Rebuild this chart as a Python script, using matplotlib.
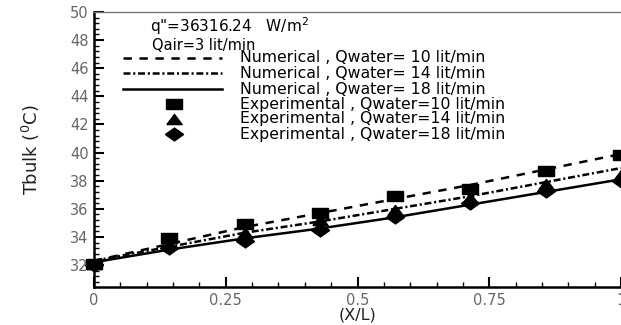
import numpy as np
import matplotlib
matplotlib.use("Agg")
import matplotlib.pyplot as plt
from matplotlib.ticker import MultipleLocator

plt.rcParams['font.family'] = ['DejaVu Sans']
plt.rcParams['lines.scale_dashes'] = False

# ── data ──────────────────────────────────────────────────
x_pos = [0, 1/7, 2/7, 3/7, 4/7, 5/7, 6/7, 1]

num_10 = [32.3, 33.5, 34.7, 35.7, 36.7, 37.7, 38.8, 39.9]
num_14 = [32.3, 33.3, 34.3, 35.1, 36.0, 36.9, 37.9, 38.9]
num_18 = [32.2, 33.1, 33.9, 34.6, 35.4, 36.3, 37.2, 38.1]

exp_10 = [32.1, 33.9, 34.9, 35.7, 36.9, 37.4, 38.7, 39.8]
exp_14 = [32.1, 33.5, 34.3, 35.2, 35.9, 36.8, 37.8, 38.4]
exp_18 = [32.0, 33.2, 33.7, 34.5, 35.4, 36.4, 37.3, 38.0]

num_labels = ["Numerical , Qwater= 10 lit/min",
              "Numerical , Qwater= 14 lit/min",
              "Numerical , Qwater= 18 lit/min"]
exp_labels = ["Experimental , Qwater=10 lit/min",
              "Experimental , Qwater=14 lit/min",
              "Experimental , Qwater=18 lit/min"]

# wide markers (the reference image is stretched horizontally)
SQ = [(-1.5, -1), (1.5, -1), (1.5, 1), (-1.5, 1), (-1.5, -1)]
TRI = [(-1.5, -1), (1.5, -1), (0, 1), (-1.5, -1)]
DIA = [(-1.4, 0), (0, 1), (1.4, 0), (0, -1), (-1.4, 0)]

line_styles = [dict(ls=(0, (6, 5.5))),
               dict(ls=(0, (5, 2, 1.5, 2))),
               dict(ls="-")]
markers = [dict(marker=SQ, ms=11), dict(marker=TRI, ms=11), dict(marker=DIA, ms=13)]

fig = plt.figure(figsize=(6.21, 3.25), dpi=100)
ax = fig.add_axes([94/621, 38/325, 527/621, 275/325])

for y, st in zip([num_10, num_14, num_18], line_styles):
    ax.plot(x_pos, y, color="black", lw=1.8, **st)
for y, mk in zip([exp_10, exp_14, exp_18], markers):
    ax.plot(x_pos, y, ls="none", color="black", **mk, clip_on=False, zorder=3)

ax.set_xlim(0, 1)
ax.set_ylim(30.44, 50)
ax.xaxis.set_minor_locator(MultipleLocator(0.05))
ax.yaxis.set_minor_locator(MultipleLocator(0.4))
ax.set_xticks([0, 0.25, 0.5, 0.75, 1])
ax.set_xticklabels(["0", "0.25", "0.5", "0.75", "1"])
ax.set_yticks(range(32, 51, 2))

ax.tick_params(which="both", direction="in", colors="black", labelcolor="#666666",
               labelsize=10.5, top=False, right=False)
ax.tick_params(which="major", length=7, width=1.5, pad=4)
ax.tick_params(which="minor", length=3.5, width=1.0)
ax.spines["left"].set_linewidth(1.8)
ax.spines["bottom"].set_linewidth(1.8)
ax.spines["top"].set_linewidth(1.0)
ax.spines["top"].set_color("#777777")
ax.spines["right"].set_visible(False)

ax.set_xlabel("(X/L)", fontsize=11.5, labelpad=0, color="#222222")
ax.set_ylabel("Tbulk ($^0$C)", fontsize=13, labelpad=20, color="#222222")

# legend drawn in axes fraction, Tecplot style
tf = ax.transAxes
ax.text(0.106, 0.950, 'q"=36316.24   W/m$^2$', transform=tf, fontsize=11,
        va="center", ha="left")
ax.text(0.110, 0.880, "Qair=3 lit/min", transform=tf, fontsize=10.5,
        va="center", ha="left")

row_y = [0.833, 0.778, 0.720, 0.665, 0.611, 0.556]
for yy, st, lab in zip(row_y[:3], line_styles, num_labels):
    ax.plot([0.055, 0.243], [yy, yy], transform=tf, color="black", lw=1.8, **st)
    ax.text(0.277, yy, lab, transform=tf, fontsize=11.3, va="center", ha="left")
for yy, mk, lab in zip(row_y[3:], markers, exp_labels):
    ax.plot([0.152], [yy], transform=tf, color="black", ls="none", **mk)
    ax.text(0.277, yy, lab, transform=tf, fontsize=11.3, va="center", ha="left")

fig.savefig("out.png", dpi=100)
